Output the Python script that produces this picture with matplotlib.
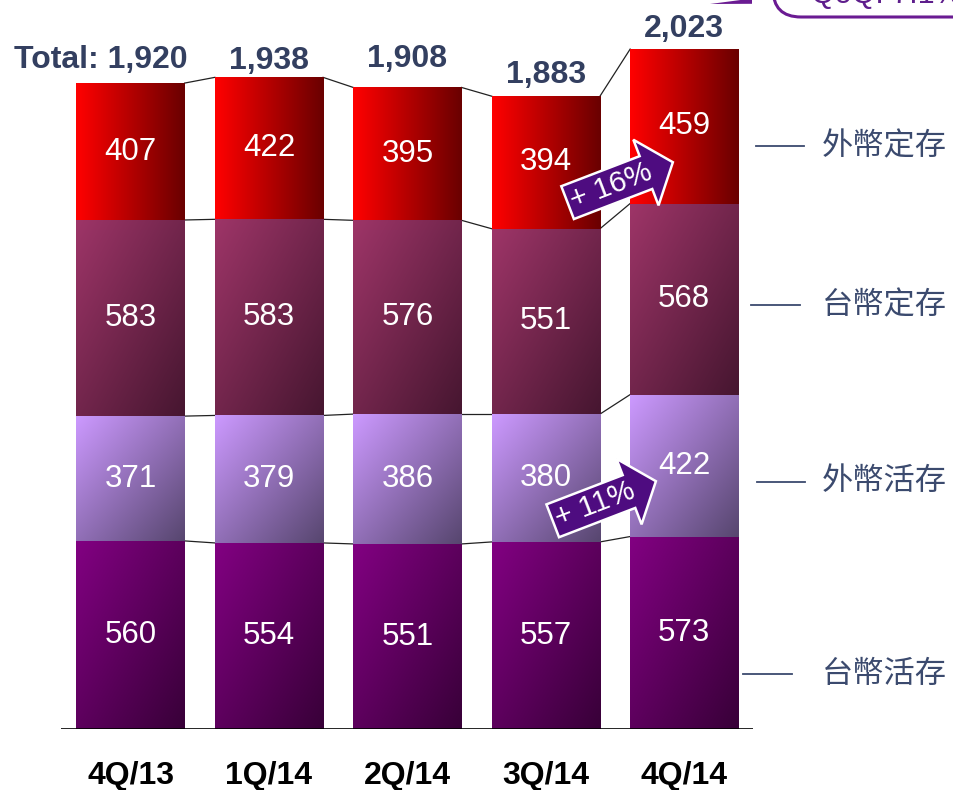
import numpy as np
import matplotlib
matplotlib.use("Agg")
import matplotlib.pyplot as plt
import matplotlib.colors as mcolors
from matplotlib.patches import FancyBboxPatch, Polygon
from matplotlib.lines import Line2D
from matplotlib.path import Path

plt.rcParams['font.family'] = ['Liberation Sans', 'Noto Sans CJK TC', 'DejaVu Sans']

# data (stacked from the bottom)
quarters = ["4Q/13", "1Q/14", "2Q/14", "3Q/14", "4Q/14"]
twd_demand = [560, 554, 551, 557, 573]      # 台幣活存
fx_demand = [371, 379, 386, 380, 422]       # 外幣活存
twd_time = [583, 583, 576, 551, 568]        # 台幣定存
fx_time = [407, 422, 395, 394, 459]         # 外幣定存
totals = [1920, 1938, 1908, 1883, 2023]
total_labels = ["Total: 1,920", "1,938", "1,908", "1,883", "2,023"]
series_names = ["台幣活存", "外幣活存", "台幣定存", "外幣定存"]
growth_labels = ["+ 16%", "+ 11%"]
qoq_label = "QoQ: 7.1%"

series = [twd_demand, fx_demand, twd_time, fx_time]
# gradient colours: start (top-left), end, direction
grads = [("#820082", "#380038", "d"),
         ("#CC99FF", "#57466F", "d"),
         ("#9E3568", "#461630", "d"),
         ("#FF0000", "#6A0000", "h")]

W, H = 954, 790
fig = plt.figure(figsize=(W / 100, H / 100), dpi=100)


def fx(px):
    return px / W


def fy(py):
    return 1 - py / H


ax = fig.add_axes([fx(61.3), fy(729.3), fx(753.5) - fx(61.3), 2100 * 0.3364 / H])
ax.set_xlim(-0.5, 4.5)
ax.set_ylim(0, 2100)


def grad_img(c0, c1, mode, n=80):
    u = np.linspace(0, 1, n)
    U, V = np.meshgrid(u, u)
    t = U if mode == "h" else (U + V) / 2
    a = np.array(mcolors.to_rgb(c0))
    b = np.array(mcolors.to_rgb(c1))
    return a + t[..., None] * (b - a)


def arrow_box(x0, y0, width, height, mutation_size):
    # block arrow like the powerpoint shape: wide head, short tip
    pad = 0.12 * mutation_size
    bx0 = x0 - pad
    by0, by1 = y0 - pad, y0 + height + pad
    hh = by1 - by0
    ym = (by0 + by1) / 2
    xb = x0 + width - 0.15 * hh
    tip = xb + 0.82 * hh
    verts = [(bx0, by0), (xb, by0), (xb, ym - hh), (tip, ym),
             (xb, ym + hh), (xb, by1), (bx0, by1), (bx0, by0)]
    return Path(verts, closed=True)


x = np.arange(len(quarters))
bw = 0.782
bottom = np.zeros(len(quarters))
bounds = []
for vals, (c0, c1, mode) in zip(series, grads):
    bars = ax.bar(x, vals, bottom=bottom, width=bw, color="none", linewidth=0)
    img = grad_img(c0, c1, mode)
    for p, v in zip(bars.patches, vals):
        x0, y0 = p.get_x(), p.get_y()
        ax.imshow(img, extent=(x0, x0 + p.get_width(), y0, y0 + p.get_height()),
                  aspect="auto", origin="upper", interpolation="bilinear", zorder=2)
        ax.text(x0 + p.get_width() / 2, y0 + p.get_height() / 2, f"{v}",
                ha="center", va="center", color="white", fontsize=22.5, zorder=4)
    bottom = bottom + np.array(vals)
    bounds.append(bottom.copy())

# connectors between neighbouring bars
for b in bounds:
    for i in range(len(x) - 1):
        ax.plot([x[i] + bw / 2, x[i + 1] - bw / 2], [b[i], b[i + 1]],
                color="#222222", lw=0.9, zorder=1)

ax.set_xlim(-0.5, 4.5)
ax.set_ylim(0, 2100)
ax.axhline(0, color="black", lw=1.2, zorder=3)
for s in ax.spines.values():
    s.set_visible(False)
ax.set_yticks([])
ax.set_xticks(x)
ax.set_xticklabels(quarters, fontsize=23, fontweight="bold", color="black")
ax.tick_params(axis="x", length=0, pad=23)

# totals
offsets = [16.5, 12, 20.5, 15, 14]
for i, (t, lab) in enumerate(zip(totals, total_labels)):
    if i == 0:
        ax.annotate(lab, (x[i] + bw / 2 + 0.02, t), xytext=(0, offsets[i]),
                    textcoords="offset points", ha="right", va="center",
                    fontsize=23, fontweight="bold", color="#333F60",
                    annotation_clip=False)
    else:
        ax.annotate(lab, (x[i], t), xytext=(0, offsets[i]),
                    textcoords="offset points", ha="center", va="center",
                    fontsize=23, fontweight="bold", color="#333F60",
                    annotation_clip=False)

# growth arrows
for lab, pos in zip(growth_labels, [(3.47, 1615), (3.355, 668)]):
    ax.text(pos[0], pos[1], lab, rotation=21, rotation_mode="anchor",
            ha="center", va="center", color="white", fontsize=21.5, zorder=6,
            bbox=dict(boxstyle=arrow_box, fc="#4E0C80", ec="white", lw=1.8))

# side legend
legend_y = [674, 481.5, 305, 146]
line_x = [(743, 792), (757, 805), (751, 800), (756, 804)]
for name, ly, (lx0, lx1) in zip(series_names, legend_y, line_x):
    fig.add_artist(Line2D([fx(lx0), fx(lx1)], [fy(ly), fy(ly)],
                          color="#3B4A6E", lw=1.3))
    fig.text(fx(822), fy(ly), name, ha="left", va="center", fontsize=22.5,
             color="#3B4A6E", family=["Noto Sans CJK TC", "DejaVu Sans"])

# QoQ callout, mostly cut off by the top edge
tr = fig.dpi_scale_trans
fig.add_artist(FancyBboxPatch((7.73, 7.73), 3.0, 1.0,
                              boxstyle="round,pad=0,rounding_size=0.28",
                              fc="white", ec="#6A1B92", lw=2.2, transform=tr))
fig.add_artist(Polygon([(7.10, 7.86), (7.52, 7.915), (7.52, 7.862)],
                       closed=True, fc="#6A1B92", ec="none", transform=tr))
fig.text(8.86, 7.87, qoq_label, ha="center", va="baseline", fontsize=22,
         color="#5E1E8C", transform=tr)

fig.savefig("out.png", dpi=100)
